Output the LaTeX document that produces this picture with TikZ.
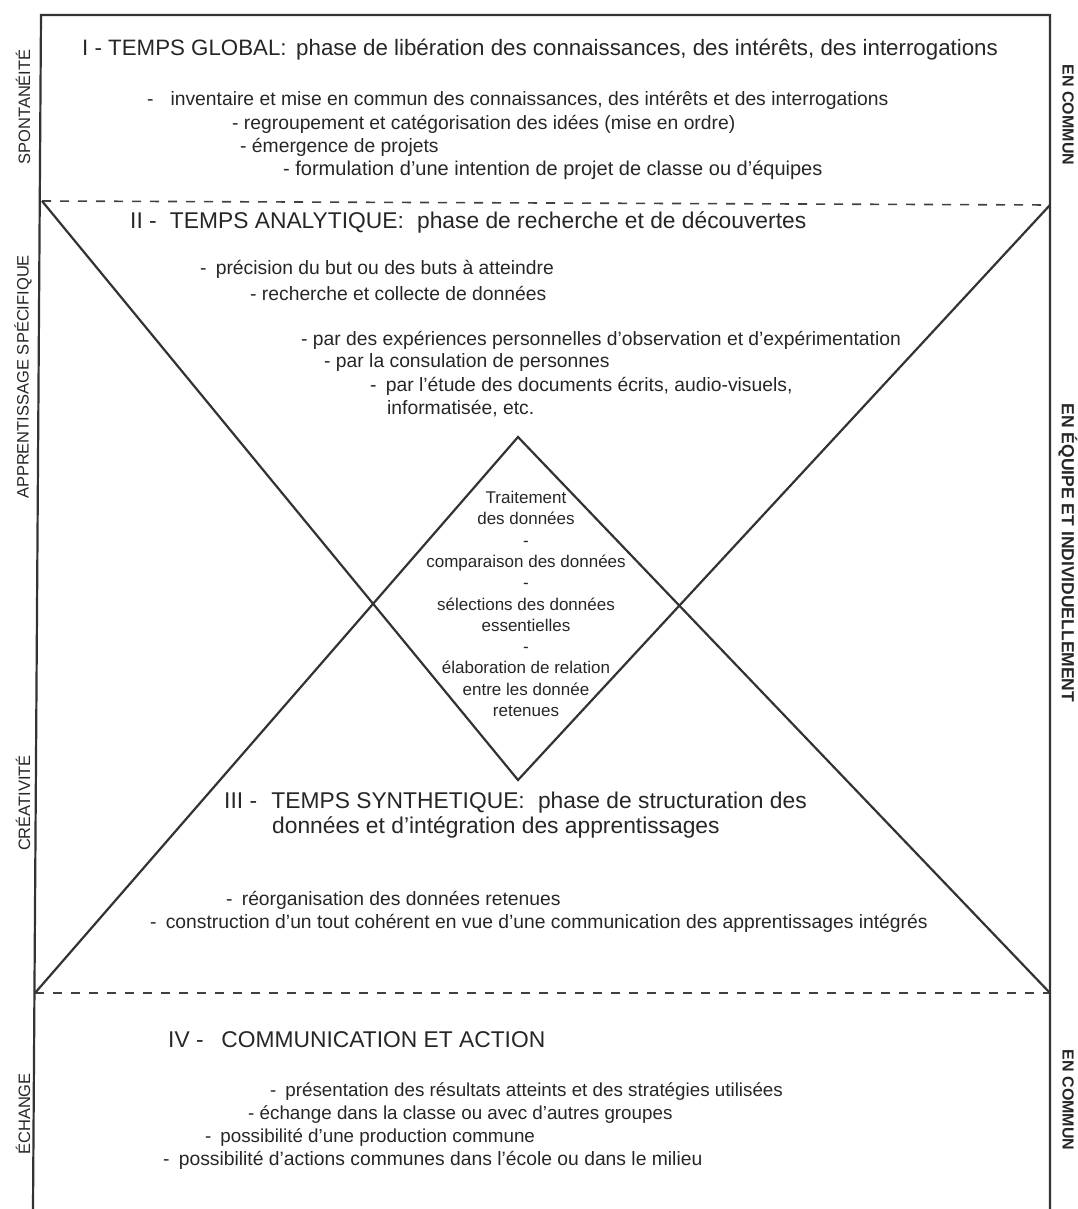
\documentclass[tikz,border=0pt]{standalone}
\usepackage{fontspec}
\setmainfont{Liberation Sans}

\begin{document}
\begin{tikzpicture}[x=1pt,y=-1pt,
    trait/.style={line width=2.2pt,draw=black!80},
    coupure/.style={line width=1.6pt,draw=black!75,dash pattern=on 9pt off 9pt},
    titre/.style={anchor=west,inner sep=0pt,text=black!85,font=\fontsize{22.8}{26}\selectfont},
    ligne/.style={anchor=west,inner sep=0pt,text=black!85,font=\fontsize{19.3}{22}\selectfont},
    petite/.style={ligne,font=\fontsize{18.8}{22}\selectfont},
    etapes/.style={align=center,inner sep=0pt,text=black!85,font=\fontsize{17}{21.3}\selectfont},
    coteG/.style={inner sep=0pt,text=black!85,rotate=90,font=\fontsize{16.5}{18}\selectfont},
    coteD/.style={inner sep=0pt,text=black!85,rotate=-90,font=\bfseries\fontsize{16}{18}\selectfont}]

    \useasboundingbox (0,0) rectangle (1077,1209);

    % cadre
    \coordinate (hautG) at (41,15);
    \coordinate (hautD) at (1050,15);
    \coordinate (basG) at (33,1209);
    \coordinate (basD) at (1050,1209);
    \coordinate (coupeG1) at (42,201);
    \coordinate (coupeD1) at (1050,205);
    \coordinate (coupeG2) at (35,993);
    \coordinate (coupeD2) at (1050,993);
    \coordinate (pointeH) at (518,437);
    \coordinate (pointeB) at (518,780);

    \draw [trait] (basG) -- (hautG) -- (hautD) -- (basD);
    \draw [coupure] (coupeG1) -- (coupeD1);
    \draw [coupure] (coupeG2) -- (coupeD2);

    % le X et le losange
    \draw [trait] (coupeG1) -- (pointeB) -- (coupeD1);
    \draw [trait] (coupeG2) -- (pointeH) -- (coupeD2);

    % I
    \node [titre,font=\fontsize{22.3}{26}\selectfont] (t1) at (82,50) {I - TEMPS GLOBAL:\hspace{0.15em} phase de libération des connaissances, des intérêts, des interrogations};
    \node [ligne] (l11) at (147,100) {-\hspace{0.6em} inventaire et mise en commun des connaissances, des intérêts et des interrogations};
    \node [ligne] (l12) at (232,124) {- regroupement et catégorisation des idées (mise en ordre)};
    \node [ligne] (l13) at (240,147) {- émergence de projets};
    \node [ligne,font=\fontsize{20}{22}\selectfont] (l14) at (283,170) {- formulation d’une intention de projet de classe ou d’équipes};

    % II
    \node [titre] (t2) at (130,222) {II -\hspace{0.3em} TEMPS ANALYTIQUE:\hspace{0.3em} phase de recherche et de découvertes};
    \node [ligne] (l21) at (200,269) {-\hspace{0.2em} précision du but ou des buts à atteindre};
    \node [ligne] (l22) at (250,293) {- recherche et collecte de données};
    \node [ligne] (l23) at (301,340) {- par des expériences personnelles d’observation et d’expérimentation};
    \node [ligne] (l24) at (324,363) {- par la consulation de personnes};
    \node [ligne] (l25) at (370,386) {-\hspace{0.2em} par l’étude des documents écrits, audio-visuels,};
    \node [ligne] (l26) at (387,409) {informatisée, etc.};

    \node [etapes] (traitement) at (526,604) {Traitement\\des données\\-\\comparaison des données\\-\\sélections des données\\essentielles\\-\\élaboration de relation\\entre les donnée\\retenues};

    % III
    \node [titre] (t3) at (224,803) {III -\hspace{0.35em} TEMPS SYNTHETIQUE:\hspace{0.3em} phase de structuration des};
    \node [titre] (t3b) at (272,827) {données et d’intégration des apprentissages};
    \node [ligne] (l31) at (226,900) {-\hspace{0.2em} réorganisation des données retenues};
    \node [ligne] (l32) at (150,923) {-\hspace{0.2em} construction d’un tout cohérent en vue d’une communication des apprentissages intégrés};

    % IV
    \node [titre] (t4) at (168,1040) {IV -\hspace{0.5em} COMMUNICATION ET ACTION};
    \node [petite] (l41) at (270,1092) {-\hspace{0.2em} présentation des résultats atteints et des stratégies utilisées};
    \node [petite] (l42) at (248,1115) {- échange dans la classe ou avec d’autres groupes};
    \node [petite] (l43) at (205,1138) {-\hspace{0.2em} possibilité d’une production commune};
    \node [ligne] (l44) at (163,1160) {-\hspace{0.2em} possibilité d’actions communes dans l’école ou dans le milieu};

    % axes
    \node [coteG] (spont) at (23,107) {SPONTANÉITÉ};
    \node [coteG] (appr) at (23,377) {APPRENTISSAGE SPÉCIFIQUE};
    \node [coteG] (creat) at (23,803) {CRÉATIVITÉ};
    \node [coteG] (echange) at (23,1114) {ÉCHANGE};
    \node [coteD] (commun1) at (1068,115) {EN COMMUN};
    \node [coteD,font=\bfseries\fontsize{17.5}{18}\selectfont] (equipe) at (1068,553) {EN ÉQUIPE ET INDIVIDUELLEMENT};
    \node [coteD] (commun2) at (1068,1100) {EN COMMUN};

\end{tikzpicture}
\end{document}
